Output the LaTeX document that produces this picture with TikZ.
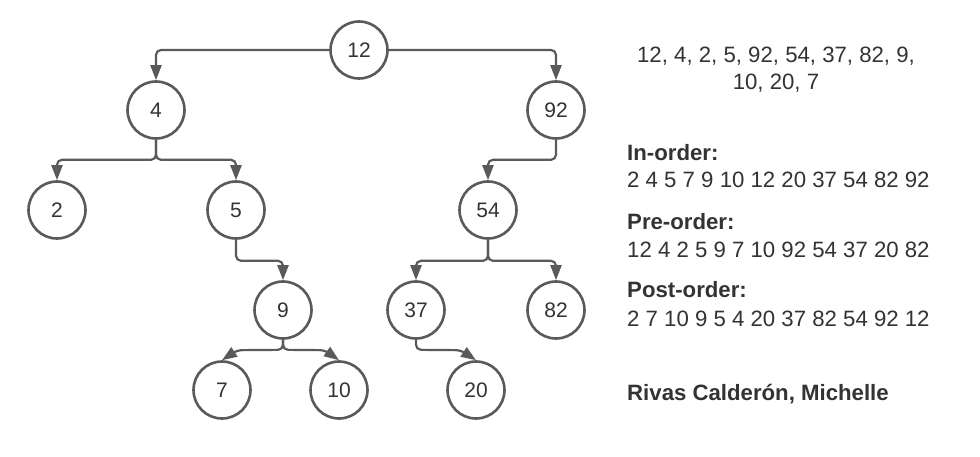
\documentclass[tikz,border=0pt]{standalone}
\usepackage{fontspec}
\setmainfont{Liberation Sans}
\usetikzlibrary{arrows.meta,calc}
\definecolor{linec}{HTML}{5A5A5A}
\definecolor{textc}{HTML}{333333}
\begin{document}
\begin{tikzpicture}[x=1pt,y=-1pt,
  tnode/.style={circle,draw=linec,line width=2.6pt,fill=white,minimum size=57pt,inner sep=0pt,font=\fontsize{21}{24}\selectfont,text=textc},
  conn/.style={draw=linec,line width=2.2pt,rounded corners=5pt,-{Triangle[length=15pt,width=11pt]}},
  info/.style={font=\fontsize{22.2}{26}\selectfont,text=textc,inner sep=0pt},
  infob/.style={info,font=\fontsize{22.2}{26}\selectfont\bfseries},
  ]
\useasboundingbox (0,0) rectangle (980,457);
% tree nodes
\node[tnode] (n12) at (359,50) {12};
\node[tnode] (n4) at (156,110) {4};
\node[tnode] (n92) at (556,110) {92};
\node[tnode] (n2) at (57,210) {2};
\node[tnode] (n5) at (236,210) {5};
\node[tnode] (n54) at (488,210) {54};
\node[tnode] (n9) at (283,310) {9};
\node[tnode] (n37) at (416,310) {37};
\node[tnode] (n82) at (556,310) {82};
\node[tnode] (n7) at (222,390) {7};
\node[tnode] (n10) at (339,390) {10};
\node[tnode] (n20) at (476,390) {20};
% connectors
\draw[conn] (n12.west) -| (n4.north);
\draw[conn] (n12.east) -| (n92.north);
\draw[conn] (n4.south) -- ++(0,20) -| (n2.north);
\draw[conn] (n4.south) -- ++(0,20) -| (n5.north);
\draw[conn] (n92.south) -- ++(0,20) -| (n54.north);
\draw[conn] (n5.south) -- ++(0,21) -| (n9.north);
\draw[conn] (n54.south) -- ++(0,21) -| (n37.north);
\draw[conn] (n54.south) -- ++(0,21) -| (n82.north);
\draw[conn] (n9.south) -- ++(0,10) -- ($(n7.north)+(15,-10)$) -- (n7.north);
\draw[conn] (n9.south) -- ++(0,10) -- ($(n10.north)+(-14,-10)$) -- (n10.north);
\draw[conn] (n37.south) -- ++(0,10) -- ($(n20.north)+(-15,-10)$) -- (n20.north);
% text
\node[info,anchor=base] (seq1) at (776,63) {12, 4, 2, 5, 92, 54, 37, 82, 9,};
\node[info,anchor=base] (seq2) at (776,90) {10, 20, 7};
\node[infob,anchor=base west] (inh) at (627,161) {In-order:};
\node[info,anchor=base west] (inv) at (627,188) {2 4 5 7 9 10 12 20 37 54 82 92};
\node[infob,anchor=base west] (preh) at (627,230) {Pre-order:};
\node[info,anchor=base west] (prev) at (627,258) {12 4 2 5 9 7 10 92 54 37 20 82};
\node[infob,anchor=base west] (posth) at (627,298) {Post-order:};
\node[info,anchor=base west] (postv) at (627,326) {2 7 10 9 5 4 20 37 82 54 92 12};
\node[infob,anchor=base west] (auth) at (627,400) {Rivas Calderón, Michelle};
\end{tikzpicture}
\end{document}
